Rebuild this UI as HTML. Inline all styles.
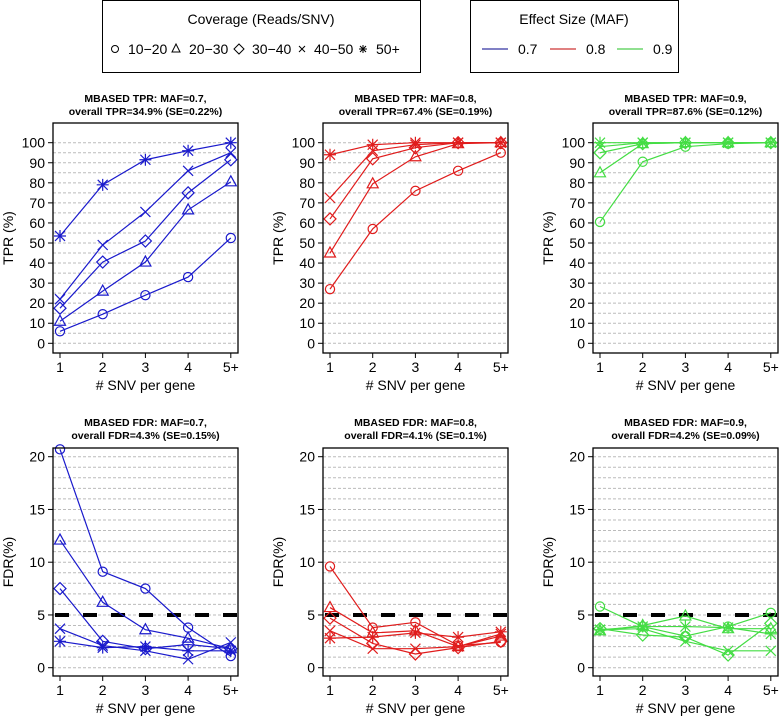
<!DOCTYPE html>
<html><head><meta charset="utf-8"><style>
body{margin:0;background:#fff;}
svg{display:block;font-family:"Liberation Sans",Arial,sans-serif;}
</style></head><body>
<svg id="chart" width="779" height="720" viewBox="0 0 779 720">
<g>
<rect x="102.5" y="0.5" width="318" height="72" fill="#fff" stroke="#000"/>
<text x="261" y="24" font-size="14" text-anchor="middle">Coverage (Reads/SNV)</text>
<g font-size="14">
<circle cx="115" cy="49" r="3.5" fill="none" stroke="#000"/><text x="128" y="54">10−20</text>
<path d="M176,44L180,52L172,52Z" fill="none" stroke="#000"/><text x="189" y="54">20−30</text>
<path d="M239,44L244,49L239,54L234,49Z" fill="none" stroke="#000"/><text x="252" y="54">30−40</text>
<path d="M299,46L305,52M299,52L305,46" stroke="#000"/><text x="314" y="54">40−50</text>
<path d="M360,46L366,52M360,52L366,46M363,45L363,53M359,49L367,49" stroke="#000"/><text x="376" y="54">50+</text>
</g></g>
<g>
<rect x="470.5" y="0.5" width="208" height="72" fill="#fff" stroke="#000"/>
<text x="574" y="24" font-size="14" text-anchor="middle">Effect Size (MAF)</text>
<line x1="482" y1="49" x2="508" y2="49" stroke="#00008b"/><text x="518" y="54" font-size="14">0.7</text>
<line x1="550" y1="49" x2="576" y2="49" stroke="#c00000"/><text x="586" y="54" font-size="14">0.8</text>
<line x1="617" y1="49" x2="643" y2="49" stroke="#20c020"/><text x="653" y="54" font-size="14">0.9</text>
</g>
</svg>
<script>
const categories=["1","2","3","4","5+"];
const coverageGroups=["10-20","20-30","30-40","40-50","50+"];
const tpr07_circle=[6,14.5,24,33,52.5];
const tpr07_triangle=[11,26,40.5,66.5,80.5];
const tpr07_diamond=[17.5,40.5,51,75,91.5];
const tpr07_cross=[22,49,65.5,86,95];
const tpr07_star=[53.5,79,91.5,96,100];
const tpr08_circle=[27,57,76,86,95];
const tpr08_triangle=[45,79.5,93,99.5,100];
const tpr08_diamond=[62,92,97.5,100,100];
const tpr08_cross=[72.5,96,99,100,100];
const tpr08_star=[94,99,100,100,100];
const tpr09_circle=[60.5,90.5,98,99.5,100];
const tpr09_triangle=[85,99.5,100,100,100];
const tpr09_diamond=[95,99.5,100,100,100];
const tpr09_cross=[98,100,100,100,100];
const tpr09_star=[100,100,100,100,100];
const fdr07_circle=[20.7,9.1,7.5,3.8,1.1];
const fdr07_triangle=[12.1,6.2,3.6,2.8,1.8];
const fdr07_diamond=[7.5,2.5,1.8,2.2,1.8];
const fdr07_cross=[3.7,2.1,1.6,0.8,2.4];
const fdr07_star=[2.5,1.9,2.0,1.6,1.6];
const fdr08_circle=[9.6,3.8,4.3,2.1,2.4];
const fdr08_triangle=[5.7,3.3,3.5,2.0,3.0];
const fdr08_diamond=[4.7,2.3,1.3,1.9,2.5];
const fdr08_cross=[3.5,1.8,1.8,2.0,3.2];
const fdr08_star=[2.8,2.9,3.3,2.9,3.4];
const fdr09_circle=[5.8,3.9,3.0,3.9,5.2];
const fdr09_triangle=[3.5,4.0,4.9,3.7,3.7];
const fdr09_diamond=[3.7,3.1,2.9,1.2,4.2];
const fdr09_cross=[3.6,3.7,2.5,1.6,1.6];
const fdr09_star=[3.6,3.9,3.9,3.8,3.2];
const tprTicks=[0,10,20,30,40,50,60,70,80,90,100];
const fdrTicks=[0,5,10,15,20];
const titles=["MBASED TPR: MAF=0.7,|overall TPR=34.9% (SE=0.22%)","MBASED TPR: MAF=0.8,|overall TPR=67.4% (SE=0.19%)","MBASED TPR: MAF=0.9,|overall TPR=87.6% (SE=0.12%)","MBASED FDR: MAF=0.7,|overall FDR=4.3% (SE=0.15%)","MBASED FDR: MAF=0.8,|overall FDR=4.1% (SE=0.1%)","MBASED FDR: MAF=0.9,|overall FDR=4.2% (SE=0.09%)"];

const NS="http://www.w3.org/2000/svg";
const svg=document.getElementById('chart');
function mk(tag,attrs,parent){const e=document.createElementNS(NS,tag);for(const k in attrs)e.setAttribute(k,attrs[k]);(parent||svg).appendChild(e);return e;}
const colors=["#1a1acc","#e01c1c","#44dd44"];
const shapes=["circle","triangle","diamond","cross","star"];
const panels=[
 {row:0,col:0,series:[tpr07_circle,tpr07_triangle,tpr07_diamond,tpr07_cross,tpr07_star]},
 {row:0,col:1,series:[tpr08_circle,tpr08_triangle,tpr08_diamond,tpr08_cross,tpr08_star]},
 {row:0,col:2,series:[tpr09_circle,tpr09_triangle,tpr09_diamond,tpr09_cross,tpr09_star]},
 {row:1,col:0,series:[fdr07_circle,fdr07_triangle,fdr07_diamond,fdr07_cross,fdr07_star]},
 {row:1,col:1,series:[fdr08_circle,fdr08_triangle,fdr08_diamond,fdr08_cross,fdr08_star]},
 {row:1,col:2,series:[fdr09_circle,fdr09_triangle,fdr09_diamond,fdr09_cross,fdr09_star]}
];
function marker(g,shape,x,y,c){
 const s={fill:"none",stroke:c,"stroke-width":1.2};
 let e;
 if(shape==="circle")e=mk('circle',Object.assign({cx:x,cy:y,r:4.6},s),g);
 else if(shape==="triangle")e=mk('path',Object.assign({d:`M${x},${y-6}L${x+5.5},${y+4}L${x-5.5},${y+4}Z`},s),g);
 else if(shape==="diamond")e=mk('path',Object.assign({d:`M${x},${y-6}L${x+6},${y}L${x},${y+6}L${x-6},${y}Z`},s),g);
 else if(shape==="cross")e=mk('path',Object.assign({d:`M${x-5},${y-5}L${x+5},${y+5}M${x-5},${y+5}L${x+5},${y-5}`},s),g);
 else e=mk('path',Object.assign({d:`M${x-5},${y-5}L${x+5},${y+5}M${x-5},${y+5}L${x+5},${y-5}M${x},${y-6}L${x},${y+6}M${x-6},${y}L${x+6},${y}`},s),g);
 
 
}
panels.forEach((p,pi)=>{
 const left=[53,323,593][p.col], right=left+185;
 const top=p.row?448:123, bottom=p.row?676:353;
 const isT=p.row===0;
 const y0=isT?343.3:667.7, k=isT?2.006:10.55;
 const yS=v=>y0-v*k;
 const xS=i=>left+7+i*42.7;
 const g=mk('g',{});
 
 
 const gstep=isT?5:1, gmax=isT?100:20;
 for(let v=0;v<=gmax;v+=gstep){
  const ln=mk('line',{x1:left,x2:right,y1:yS(v),y2:yS(v),stroke:"#bbb","stroke-dasharray":"3,2","stroke-width":1},g);
  
  
 }
 if(!isT){
  const th=mk('line',{x1:left,x2:right,y1:yS(5),y2:yS(5),stroke:"#000","stroke-width":4,"stroke-dasharray":"14,14","stroke-dashoffset":"-2"},g);
  
  
 }
 p.series.forEach((vals,si)=>{
  const sg=mk('g',{},g);
  
  
  const pts=vals.map((v,i)=>xS(i)+','+yS(v)).join(' ');
  const pl=mk('polyline',{points:pts,fill:"none",stroke:colors[p.col],"stroke-width":1.2},sg);
  
  
  vals.forEach((v,i)=>marker(sg,shapes[si],xS(i),yS(v),colors[p.col]));
 });
 const bx=mk('rect',{x:left,y:top,width:right-left,height:bottom-top,fill:"none",stroke:"#000","stroke-width":1.3},g);
 
 
 (isT?tprTicks:fdrTicks).forEach(v=>{
  mk('line',{x1:left-5,x2:left,y1:yS(v),y2:yS(v),stroke:"#000"},g);
  const t=mk('text',{x:left-8,y:yS(v)+5,"font-size":14,"text-anchor":"end"},g);
  t.textContent=v;
  
  
 });
 categories.forEach((c,i)=>{
  mk('line',{x1:xS(i),x2:xS(i),y1:bottom,y2:bottom+5,stroke:"#000"},g);
  const t=mk('text',{x:xS(i),y:bottom+19,"font-size":14,"text-anchor":"middle"},g);
  t.textContent=c;
  
  
 });
 const xl=mk('text',{x:(left+right)/2,y:bottom+37,"font-size":14,"text-anchor":"middle"},g);
 xl.textContent="# SNV per gene";
 
 
 const yc=(top+bottom)/2, yx=left-40;
 const yl=mk('text',{x:yx,y:yc,"font-size":14,"text-anchor":"middle",transform:`rotate(-90 ${yx} ${yc})`},g);
 yl.textContent=isT?"TPR (%)":"FDR(%)";
 
 
 const tl=titles[pi].split('|');
 tl.forEach((s,j)=>{
  const t=mk('text',{x:(left+right)/2,y:(isT?102:426)+j*13,"font-size":10.5,"font-weight":"bold","text-anchor":"middle"},g);
  t.textContent=s;
  
  
 });
});
</script>
</body></html>
